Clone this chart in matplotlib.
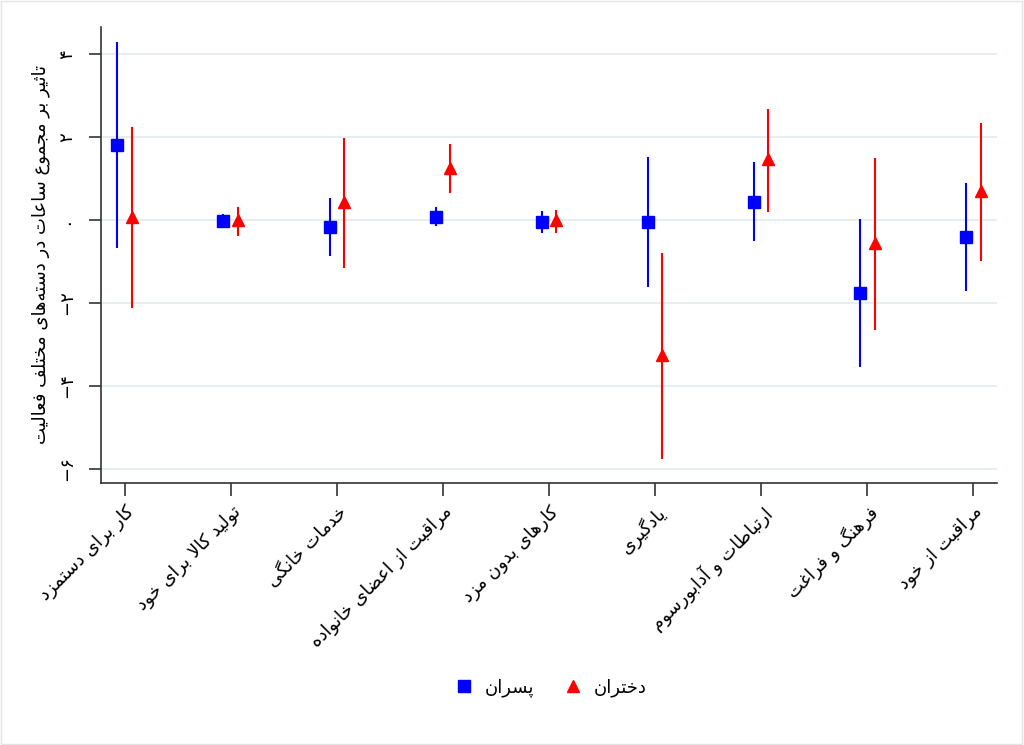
import matplotlib
matplotlib.use("Agg")
import matplotlib.pyplot as plt
from matplotlib.lines import Line2D
from matplotlib.patches import Rectangle
import numpy as np

# --- data ---
categories = ["کار برای دستمزد", "تولید کالا برای خود", "خدمات خانگی",
              "مراقبت از اعضای خانواده", "کارهای بدون مزد", "یادگیری",
              "ارتباطات و آدابورسوم", "فرهنگ و فراغت", "مراقبت از خود"]
boys_est = [1.81, -0.02, -0.16, 0.08, -0.04, -0.05, 0.44, -1.77, -0.40]
boys_lo = [-0.68, -0.19, -0.87, -0.14, -0.31, -1.61, -0.51, -3.56, -1.71]
boys_hi = [4.29, 0.15, 0.54, 0.32, 0.22, 1.51, 1.41, 0.02, 0.89]
girls_est = [0.07, 0.00, 0.43, 1.25, 0.00, -3.26, 1.47, -0.56, 0.70]
girls_lo = [-2.13, -0.39, -1.16, 0.66, -0.31, -5.78, 0.19, -2.66, -0.99]
girls_hi = [2.24, 0.32, 1.97, 1.84, 0.24, -0.79, 2.68, 1.49, 2.35]
y_ticks = [4, 2, 0, -2, -4, -6]
y_ticklabels = ["۴", "۲", "۰", "−۲", "−۴", "−۶"]
y_title = "تاثیر بر مجموع ساعات در دسته‌های مختلف فعالیت"
legend_names = ["پسران", "دختران"]

# --- small persian shaper: presentation forms + reverse for RTL ---
FORMS = {
    'ا': (0xFE8D, 0xFE8E, None, None), 'آ': (0xFE81, 0xFE82, None, None),
    'د': (0xFEA9, 0xFEAA, None, None), 'ر': (0xFEAD, 0xFEAE, None, None),
    'ز': (0xFEAF, 0xFEB0, None, None), 'و': (0xFEED, 0xFEEE, None, None),
    'LA': (0xFEFB, 0xFEFC, None, None),
    'ب': (0xFE8F, 0xFE90, 0xFE91, 0xFE92), 'پ': (0xFB56, 0xFB57, 0xFB58, 0xFB59),
    'ت': (0xFE95, 0xFE96, 0xFE97, 0xFE98), 'ث': (0xFE99, 0xFE9A, 0xFE9B, 0xFE9C),
    'ج': (0xFE9D, 0xFE9E, 0xFE9F, 0xFEA0), 'خ': (0xFEA5, 0xFEA6, 0xFEA7, 0xFEA8),
    'س': (0xFEB1, 0xFEB2, 0xFEB3, 0xFEB4), 'ض': (0xFEBD, 0xFEBE, 0xFEBF, 0xFEC0),
    'ط': (0xFEC1, 0xFEC2, 0xFEC3, 0xFEC4), 'ع': (0xFEC9, 0xFECA, 0xFECB, 0xFECC),
    'غ': (0xFECD, 0xFECE, 0xFECF, 0xFED0), 'ف': (0xFED1, 0xFED2, 0xFED3, 0xFED4),
    'ق': (0xFED5, 0xFED6, 0xFED7, 0xFED8), 'ک': (0xFB8E, 0xFB8F, 0xFB90, 0xFB91),
    'گ': (0xFB92, 0xFB93, 0xFB94, 0xFB95), 'ل': (0xFEDD, 0xFEDE, 0xFEDF, 0xFEE0),
    'م': (0xFEE1, 0xFEE2, 0xFEE3, 0xFEE4), 'ن': (0xFEE5, 0xFEE6, 0xFEE7, 0xFEE8),
    'ه': (0xFEE9, 0xFEEA, 0xFEEB, 0xFEEC), 'ی': (0xFBFC, 0xFBFD, 0xFBFE, 0xFBFF),
}


def fa(text):
    toks = []
    i = 0
    while i < len(text):
        if text[i] == 'ل' and i + 1 < len(text) and text[i + 1] == 'ا':
            toks.append('LA')
            i += 2
        else:
            toks.append(text[i])
            i += 1
    out = []
    for k, t in enumerate(toks):
        if t not in FORMS:
            if t != '\u200c':
                out.append(t)
            continue
        p = toks[k - 1] if k > 0 else None
        nx = toks[k + 1] if k < len(toks) - 1 else None
        cp = p in FORMS and FORMS[p][2] is not None
        cn = FORMS[t][2] is not None and nx in FORMS
        iso, fin, ini, med = FORMS[t]
        g = med if (cp and cn) else fin if cp else ini if cn else iso
        out.append(chr(g))
    return ''.join(out[::-1])


plt.rcParams['font.family'] = ['DejaVu Sans']

fig = plt.figure(figsize=(10.24, 7.45), dpi=100)
fig.patches.append(Rectangle((0.001, 0.001), 0.997, 0.997, transform=fig.transFigure,
                             fill=False, edgecolor='#e4e4e4', linewidth=1))
ax = fig.add_axes([101 / 1024, 1 - 483 / 745, 896 / 1024, 456 / 745])

x = np.arange(1, len(categories) + 1)
off = 0.07
be = np.array(boys_est)
ge = np.array(girls_est)
ax.errorbar(x - off, be, yerr=[be - np.array(boys_lo), np.array(boys_hi) - be],
            fmt='s', color='blue', ecolor='blue', elinewidth=1.5, capsize=0,
            markersize=8, zorder=3)
ax.errorbar(x + off, ge, yerr=[ge - np.array(girls_lo), np.array(girls_hi) - ge],
            fmt='^', color='red', ecolor='red', elinewidth=1.5, capsize=0,
            markersize=9, zorder=3)

ax.set_xlim(0.775, 9.225)
ax.set_ylim(-6.35, 4.66)
ax.set_yticks(y_ticks)
ax.set_yticklabels(y_ticklabels, rotation=90, va='center', fontsize=13)
ax.set_xticks(x)
ax.set_xticklabels([fa(c) for c in categories], rotation=45, ha='right',
                   rotation_mode='anchor', fontsize=13)
ax.tick_params(axis='both', length=9, width=1.2, color='#333333', pad=5)
ax.tick_params(axis='y', pad=9)
ax.grid(axis='y', color='#e6eef2', linewidth=1.5)
ax.set_axisbelow(True)
for s in ['top', 'right']:
    ax.spines[s].set_visible(False)
for s in ['left', 'bottom']:
    ax.spines[s].set_linewidth(1.2)
    ax.spines[s].set_color('#333333')
ax.set_ylabel(fa(y_title), fontsize=13, labelpad=6)

handles = [Line2D([], [], marker='s', color='blue', linestyle='none', markersize=8),
           Line2D([], [], marker='^', color='red', linestyle='none', markersize=9)]
fig.legend(handles, [fa(n) for n in legend_names], loc='center',
           bbox_to_anchor=(0.537, 0.077), ncol=2, frameon=False, fontsize=13,
           handletextpad=0.5, columnspacing=1.6, handlelength=1.2)

fig.savefig('out.png', dpi=100)
